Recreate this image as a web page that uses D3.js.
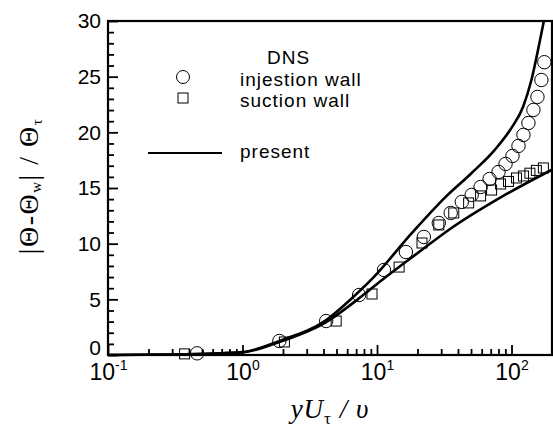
<!DOCTYPE html>
<html>
<head>
<meta charset="utf-8">
<script src="https://cdn.jsdelivr.net/npm/d3@7"></script>
<style>
  body { margin: 0; background: #fff; }
  svg { display: block; }
</style>
</head>
<body>
<svg id="chart" width="553" height="429"></svg>
<script>
// ---- data ----
const injX = [0.46, 1.88, 4.19, 7.36, 11.27, 16.4, 22.3, 28.8, 35.3, 42.7, 50.6, 58.9, 68.7, 80.1, 90.3, 101.7, 112.7, 122.7, 133.6, 145.5, 155.9, 166.8, 175.4];
const injY = [0.15, 1.26, 3.05, 5.39, 7.64, 9.25, 10.6, 11.86, 12.76, 13.75, 14.38, 15.09, 15.81, 16.44, 17.16, 17.88, 18.78, 19.77, 20.84, 22.01, 23.18, 24.7, 26.3];
const sucX = [0.371, 2.05, 4.97, 9.18, 14.6, 21.6, 28.8, 37.2, 48.0, 58.9, 71.1, 82.9, 95.0, 108.9, 122.7, 137, 153, 172.6];
const sucY = [0.1, 1.17, 3.05, 5.48, 7.9, 10.06, 11.68, 12.76, 13.66, 14.29, 14.82, 15.36, 15.59, 15.9, 16.08, 16.33, 16.58, 16.8];
const presInjX = [0.1, 0.313, 1, 1.88, 4.19, 6.53, 9.18, 18.2, 32.4, 50.6, 74.8, 100, 122, 140.6, 163, 174];
const presInjY = [0, 0.045, 0.27, 1.26, 3.14, 5.12, 6.83, 10.96, 14.2, 16.35, 18.4, 20.4, 22.3, 24.7, 28.3, 30];
const presSucX = [0.1, 0.313, 1, 1.88, 4.19, 7.74, 10.9, 21.5, 34.1, 84.3, 198];
const presSucY = [0, 0.04, 0.24, 1.17, 2.96, 5.30, 6.74, 9.43, 11.23, 14.2, 16.62];
const xMajorTicks = [0.1, 1, 10, 100];
const xTickExp = ["-1", "0", "1", "2"];
const yMajorTicks = [0, 5, 10, 15, 20, 25, 30];
const legendLabels = ["DNS", "injestion wall", "suction wall", "present"];

// ---- layout ----
const svg = d3.select("#chart");
const L = 108, R = 552, T = 21, B = 355;
const x = d3.scaleLog().domain([0.1, 200]).range([L, R]);
const y = d3.scaleLinear().domain([0, 30]).range([B, T]);

// minor ticks
const xMinor = [];
[0.1, 1, 10, 100].forEach(d => {
  for (let k = 2; k <= 9; k++) { const v = +(d * k).toPrecision(6); if (v < 200) xMinor.push(v); }
});
const yMinor = d3.range(0, 31, 1).filter(v => v % 5 !== 0);

// frame
svg.append("rect").attr("x", L).attr("y", T).attr("width", R - L).attr("height", B - T)
  .attr("fill", "none").attr("stroke", "#000").attr("stroke-width", 2.2);

// axes via d3.axis (inward ticks)
function styleTicks(g, horiz, len) {
  g.select(".domain").remove();
  g.selectAll(".tick line").attr("stroke", "#000").attr("stroke-width", 1.8)
    .attr(horiz ? "y1" : "x1", 0).attr(horiz ? "y2" : "x2", horiz ? -len : len);
}
const gx = svg.append("g").attr("transform", `translate(0,${B})`);
gx.call(d3.axisBottom(x).tickValues(xMinor).tickSizeInner(-6).tickSizeOuter(0).tickFormat(() => ""));
styleTicks(gx, true, 6);
const gxM = svg.append("g").attr("transform", `translate(0,${B})`);
gxM.call(d3.axisBottom(x).tickValues(xMajorTicks).tickSizeInner(-10).tickSizeOuter(0).tickPadding(8).tickFormat(() => ""));
styleTicks(gxM, true, 10);
gxM.selectAll(".tick text").each(function(d, i) {
  const t = d3.select(this).attr("dy", null).attr("y", 25)
    .attr("font-family", "'Liberation Sans', Arial, sans-serif").attr("font-size", 23).attr("fill", "#000");
  t.append("tspan").text("10");
  t.append("tspan").attr("font-size", 14).attr("dy", -10).text(xTickExp[i]);
});
const gy = svg.append("g").attr("transform", `translate(${L},0)`);
gy.call(d3.axisLeft(y).tickValues(yMinor).tickSizeInner(-6).tickSizeOuter(0).tickFormat(() => ""));
styleTicks(gy, false, 6);
const gyM = svg.append("g").attr("transform", `translate(${L},0)`);
gyM.call(d3.axisLeft(y).tickValues(yMajorTicks).tickSizeInner(-10).tickSizeOuter(0).tickPadding(7).tickFormat(d3.format("d")));
styleTicks(gyM, false, 10);
gyM.selectAll(".tick text").attr("font-family", "'Liberation Sans', Arial, sans-serif")
  .attr("font-size", 21).attr("fill", "#000")
  .filter(d => d === 0).attr("y", -7);

// present curves
const line = d3.line().x(d => x(d[0])).y(d => y(d[1])).curve(d3.curveMonotoneX);
svg.append("path").datum(d3.zip(presInjX, presInjY)).attr("d", line)
  .attr("fill", "none").attr("stroke", "#000").attr("stroke-width", 2.6);
svg.append("path").datum(d3.zip(presSucX, presSucY)).attr("d", line)
  .attr("fill", "none").attr("stroke", "#000").attr("stroke-width", 2.6);

// DNS markers
svg.append("g").selectAll("circle").data(d3.zip(injX, injY)).join("circle")
  .attr("cx", d => x(d[0])).attr("cy", d => y(d[1])).attr("r", 6.7)
  .attr("fill", "none").attr("stroke", "#000").attr("stroke-width", 1);
svg.append("g").selectAll("rect").data(d3.zip(sucX, sucY)).join("rect")
  .attr("x", d => x(d[0]) - 5).attr("y", d => y(d[1]) - 5).attr("width", 10).attr("height", 10)
  .attr("fill", "none").attr("stroke", "#000").attr("stroke-width", 1);

// legend
const lf = "'Liberation Sans', Arial, sans-serif";
svg.append("text").attr("x", 267).attr("y", 63.5).attr("font-family", lf).attr("font-size", 19).attr("letter-spacing", 1).text(legendLabels[0]);
svg.append("circle").attr("cx", 183).attr("cy", 77).attr("r", 6.5).attr("fill", "none").attr("stroke", "#000").attr("stroke-width", 1);
svg.append("text").attr("x", 240).attr("y", 86).attr("font-family", lf).attr("font-size", 19).attr("letter-spacing", 1).text(legendLabels[1]);
svg.append("rect").attr("x", 178).attr("y", 93).attr("width", 10).attr("height", 10).attr("fill", "none").attr("stroke", "#000").attr("stroke-width", 1);
svg.append("text").attr("x", 240).attr("y", 106.5).attr("font-family", lf).attr("font-size", 19).attr("letter-spacing", 1).text(legendLabels[2]);
svg.append("line").attr("x1", 148).attr("x2", 222).attr("y1", 153).attr("y2", 153).attr("stroke", "#000").attr("stroke-width", 2);
svg.append("text").attr("x", 240).attr("y", 158).attr("font-family", lf).attr("font-size", 19).attr("letter-spacing", 1).text(legendLabels[3]);

// axis titles
const sf = "'Liberation Serif', 'Times New Roman', serif";
const xt = svg.append("text").attr("x", 330).attr("y", 418).attr("text-anchor", "middle")
  .attr("font-family", sf).attr("font-style", "italic").attr("font-size", 27).attr("letter-spacing", 1);
xt.append("tspan").text("yU");
xt.append("tspan").attr("font-size", 17).attr("dy", 6).attr("font-style", "normal").text("τ");
xt.append("tspan").attr("dy", -6).text(" / υ");

const yt = svg.append("text").attr("transform", "translate(38,186) rotate(-90)").attr("text-anchor", "middle")
  .attr("font-family", sf).attr("font-size", 28).attr("letter-spacing", 1.5);
yt.append("tspan").text("|Θ-Θ");
yt.append("tspan").attr("font-size", 15).attr("dy", 3).text("w");
yt.append("tspan").attr("dy", -3).text("| / Θ");
yt.append("tspan").attr("font-size", 15).attr("dy", 4).text("τ");
</script>
</body>
</html>
